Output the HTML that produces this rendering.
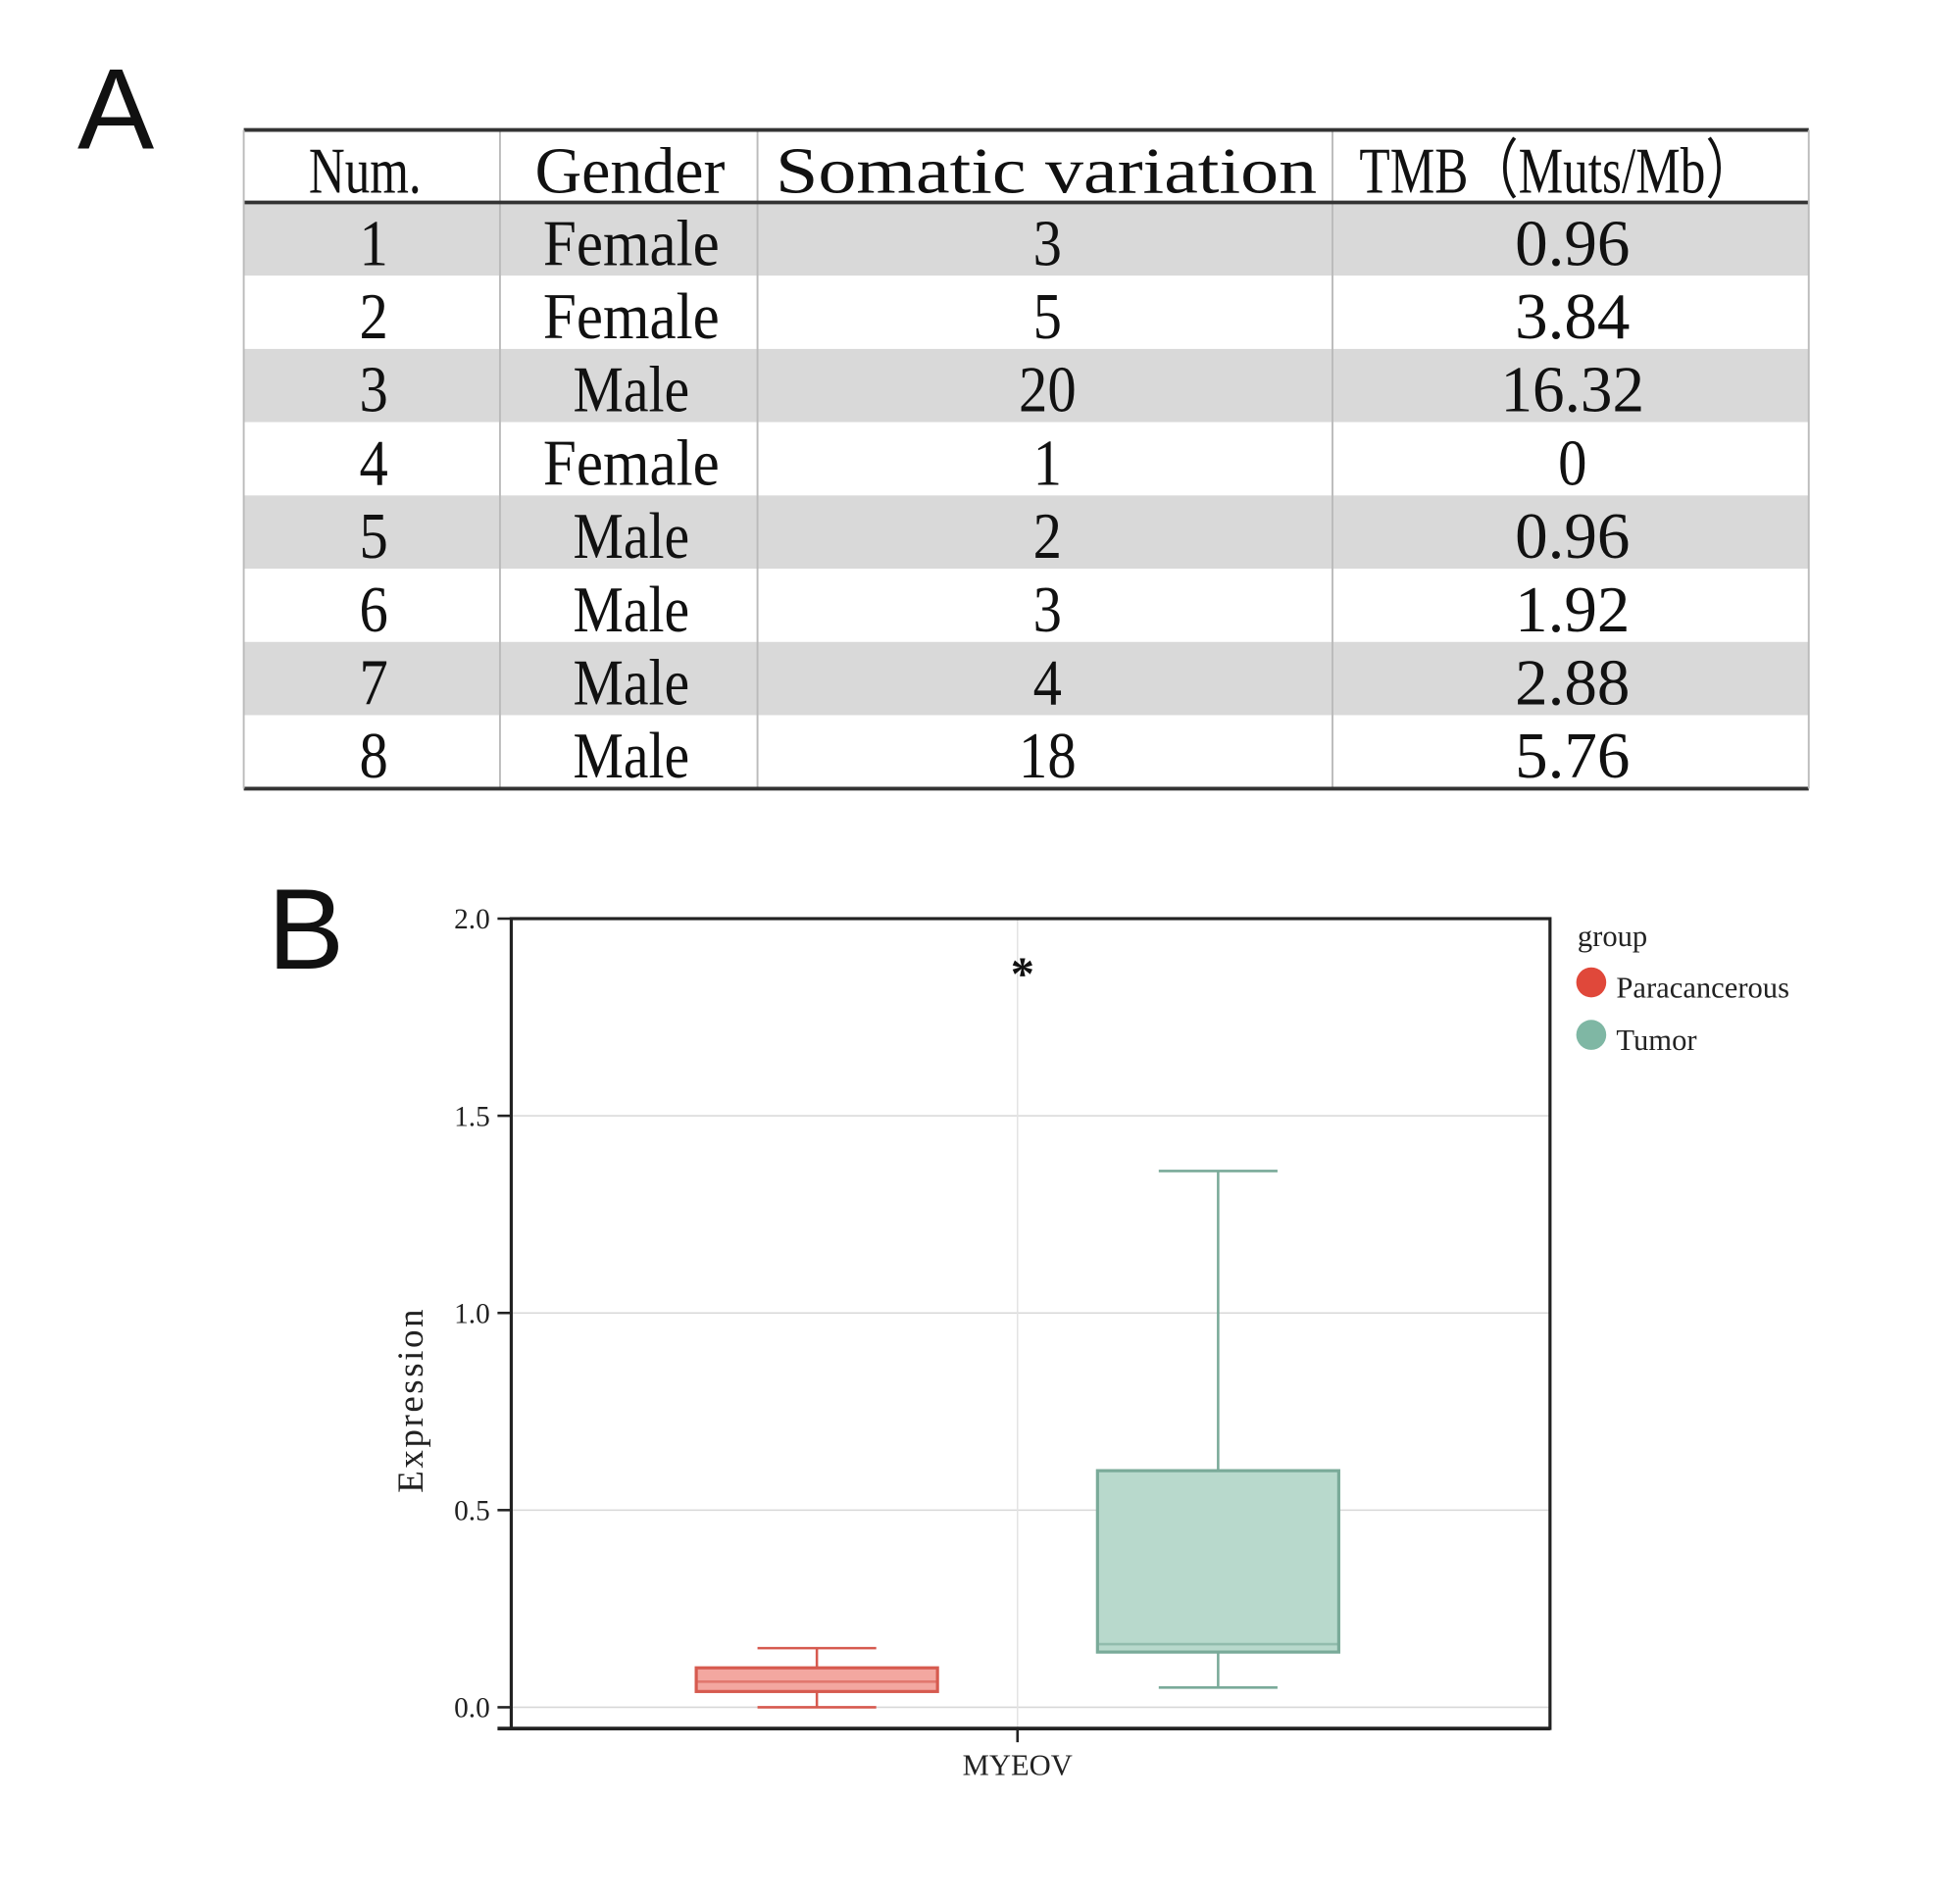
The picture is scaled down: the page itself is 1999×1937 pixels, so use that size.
<!DOCTYPE html>
<html><head><meta charset="utf-8"><style>html,body{margin:0;padding:0;background:#fff}svg{display:block}</style></head>
<body>
<svg width="1999" height="1937" viewBox="0 0 1568 1519.4" preserveAspectRatio="none" xmlns="http://www.w3.org/2000/svg" font-family="Liberation Serif, serif">
<rect width="1568" height="1519.4" fill="#fff"/>
<text x="62" y="119" font-family="Liberation Sans, sans-serif" font-size="92" fill="#111">A</text>
<g id="table"></g>
<text x="214" y="775" font-family="Liberation Sans, sans-serif" font-size="92" fill="#111">B</text>
<g id="chart"></g>
<script>
const headers=["Num.","Gender","Somatic variation","TMB\uFF08Muts/Mb\uFF09"];
const nums=["1","2","3","4","5","6","7","8"];
const genders=["Female","Female","Male","Female","Male","Male","Male","Male"];
const somatic=["3","5","20","1","2","3","4","18"];
const tmb=["0.96","3.84","16.32","0","0.96","1.92","2.88","5.76"];

const groups=["Paracancerous","Tumor"];
const lowW=[0.0,0.05];
const q1=[0.04,0.14];
const med=[0.065,0.16];
const q3=[0.10,0.60];
const highW=[0.15,1.36];
const yTicks=[0,0.5,1.0,1.5,2.0];
const yTickLabels=["0.0","0.5","1.0","1.5","2.0"];
const category="MYEOV";

const NS="http://www.w3.org/2000/svg";
function mk(parent,tag,attrs,text){const e=document.createElementNS(NS,tag);for(const k in attrs)e.setAttribute(k,attrs[k]);if(text!==undefined)e.textContent=text;parent.appendChild(e);return e;}

const T=document.getElementById('table');
const colX=[195,400,606,1066,1447];
const rowTop=162,rowH=58.6;
for(let i=0;i<8;i++){
  const r=mk(T,'rect',{x:195,y:rowTop+i*rowH,width:1252,height:rowH,fill:i%2===0?'#d9d9d9':'#fff'});
  
  
}
for(let c=1;c<4;c++){
  mk(T,'line',{x1:colX[c],x2:colX[c],y1:104,y2:631,stroke:'#bbb','stroke-width':1.5});
}
mk(T,'line',{x1:195,x2:1447,y1:104,y2:104,stroke:'#333','stroke-width':3});
mk(T,'line',{x1:195,x2:1447,y1:162,y2:162,stroke:'#333','stroke-width':3});
mk(T,'line',{x1:195,x2:1447,y1:631,y2:631,stroke:'#333','stroke-width':3});
mk(T,'line',{x1:195,x2:195,y1:104,y2:631,stroke:'#bbb','stroke-width':1.5});
mk(T,'line',{x1:1447,x2:1447,y1:104,y2:631,stroke:'#bbb','stroke-width':1.5});
const hdrLen=[90,152,433,317];
const hdrX=[292,504,837,1246];
headers.forEach((h,c)=>{
  const t=mk(T,'text',{x:hdrX[c],y:154,'text-anchor':'middle','font-size':52,fill:'#111',textLength:hdrLen[c],lengthAdjust:'spacingAndGlyphs'},h);
  
  
});
function cellLen(s){if(s==='Female')return 141;if(s==='Male')return 93;return s.length*23;}
const cols=[nums,genders,somatic,tmb];
const cellX=[299,505,838,1258];
for(let i=0;i<8;i++){
  cols.forEach((arr,c)=>{
    const t=mk(T,'text',{x:cellX[c],y:rowTop+i*rowH+50,'text-anchor':'middle','font-size':52,fill:'#111',textLength:cellLen(arr[i]),lengthAdjust:'spacingAndGlyphs'},arr[i]);
    
    
  });
}

const C=document.getElementById('chart');
const L=409,R=1240,TOP=735,BOT=1383;
const y0=1366,unit=315.5;
const ys=v=>y0-v*unit;
const cx=814;
const boxX=[557,878],boxW=193,capW=95;
const fills=['#f3a7a0','#b8d9cc'],strokes=['#d65a4f','#7aaa99'];
yTicks.forEach((v,i)=>{
  const g=mk(C,'line',{x1:L,x2:R,y1:ys(v),y2:ys(v),stroke:'#d8d8d8','stroke-width':1.2});
  
  
  mk(C,'line',{x1:398,x2:L,y1:ys(v),y2:ys(v),stroke:'#222','stroke-width':2});
  const t=mk(C,'text',{x:392,y:ys(v)+8,'text-anchor':'end','font-size':23,fill:'#222'},yTickLabels[i]);
  
  
});
mk(C,'line',{x1:cx,x2:cx,y1:TOP,y2:BOT,stroke:'#e3e3e3','stroke-width':1.2});
groups.forEach((g,i)=>{
  const x=boxX[i],mid=x+boxW/2;
  const w=mk(C,'line',{x1:mid,x2:mid,y1:ys(highW[i]),y2:ys(lowW[i]),stroke:strokes[i],'stroke-width':2});
  
  
  mk(C,'line',{x1:mid-capW/2,x2:mid+capW/2,y1:ys(highW[i]),y2:ys(highW[i]),stroke:strokes[i],'stroke-width':2});
  mk(C,'line',{x1:mid-capW/2,x2:mid+capW/2,y1:ys(lowW[i]),y2:ys(lowW[i]),stroke:strokes[i],'stroke-width':2});
  const b=mk(C,'rect',{x:x,y:ys(q3[i]),width:boxW,height:ys(q1[i])-ys(q3[i]),fill:fills[i],stroke:strokes[i],'stroke-width':2.5});
  
  
  const m=mk(C,'line',{x1:x,x2:x+boxW,y1:ys(med[i]),y2:ys(med[i]),stroke:strokes[i],'stroke-width':2,opacity:0.6});
  
  
});
mk(C,'rect',{x:L,y:TOP,width:R-L,height:BOT-TOP,fill:'none',stroke:'#222','stroke-width':2.5});
mk(C,'line',{x1:398,x2:R,y1:BOT,y2:BOT,stroke:'#222','stroke-width':3});
mk(C,'line',{x1:cx,x2:cx,y1:BOT,y2:1394,stroke:'#222','stroke-width':2});
const xl=mk(C,'text',{x:cx,y:1420,'text-anchor':'middle','font-size':24,fill:'#222'},category);


const yt=mk(C,'text',{x:0,y:0,'text-anchor':'middle','font-size':29,fill:'#222','letter-spacing':'2',transform:'translate(338,1120) rotate(-90)'},'Expression');


const st=mk(C,'text',{x:818,y:792,'text-anchor':'middle','font-size':38,fill:'#111','font-weight':'bold'},'*');


const lg=mk(C,'text',{x:1262,y:757,'font-size':24,fill:'#222'},'group');


const legC=['#e0483a','#7fb7a4'];
groups.forEach((g,i)=>{
  const c=mk(C,'circle',{cx:1273,cy:786+i*42,r:12,fill:legC[i]});
  
  
  const t=mk(C,'text',{x:1293,y:798+i*42,'font-size':24,fill:'#222'},g);
  
  
});
</script>
</svg>
</body></html>
